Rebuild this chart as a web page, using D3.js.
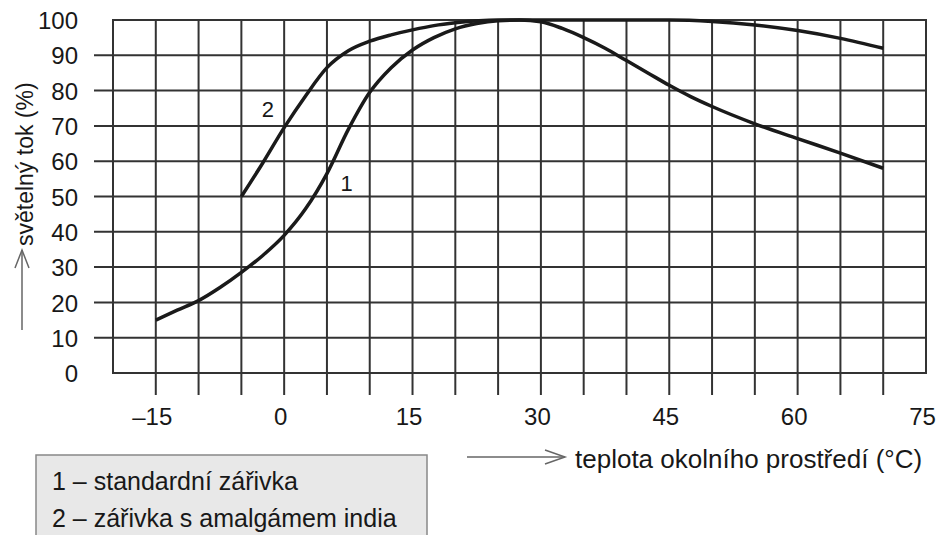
<!DOCTYPE html>
<html>
<head>
<meta charset="utf-8">
<script src="https://cdn.jsdelivr.net/npm/d3@7/dist/d3.min.js"></script>
<style>
  html, body { margin: 0; padding: 0; background: #fff; }
  svg { display: block; font-family: "Liberation Sans", Arial, sans-serif; }
</style>
</head>
<body>
<svg id="chart" width="937" height="535"></svg>
<script>
// ---- data ----
const temps1 = [-15, -12.5, -10, -7.5, -5, -2.5, 0, 2.5, 5, 7.5, 10, 12.5, 15, 17.5, 20, 22.5, 25, 27.5, 30, 32.5, 35, 37.5, 40, 42.5, 45, 47.5, 50, 55, 60, 65, 70];
const flux1  = [15, 17.8, 20.5, 24.2, 28.5, 33.3, 39, 46.5, 56.5, 69, 79.5, 86.5, 91.5, 95, 97.5, 99, 99.8, 100, 99.5, 97.6, 95, 92, 88.5, 85, 81.5, 78.3, 75.5, 70.6, 66.4, 62.3, 58];
const temps2 = [-5, -2.5, 0, 2.5, 5, 7.5, 10, 12.5, 15, 17.5, 20, 25, 30, 35, 40, 45, 50, 55, 60, 65, 70];
const flux2  = [50, 59.5, 69.5, 78.5, 86.5, 91.3, 94, 95.8, 97.2, 98.4, 99.2, 100, 100, 100, 100, 100, 99.6, 98.6, 97, 94.8, 92];
const xTickLabels = [-15, 0, 15, 30, 45, 60, 75];
const yTickLabels = [0, 10, 20, 30, 40, 50, 60, 70, 80, 90, 100];
const xGrid = [-15, -10, -5, 0, 5, 10, 15, 20, 25, 30, 35, 40, 45, 50, 55, 60, 65, 70];
const yGrid = [10, 20, 30, 40, 50, 60, 70, 80, 90];
const curveLabels = [{text: "2", t: -1.9, v: 72.5}, {text: "1", t: 7.3, v: 51.5}];
const legendLines = ["1 – standardní zářivka", "2 – zářivka s amalgámem india"];
const xTitle = "teplota okolního prostředí (°C)";
const yTitle = "světelný tok (%)";

// ---- scales ----
const svg = d3.select("#chart");
const x = d3.scaleLinear().domain([-20, 75]).range([113, 926]);
const y = d3.scaleLinear().domain([0, 100]).range([373, 20]);
const gridColor = "#333";
const textColor = "#181818";

// grid
svg.append("g").selectAll("line").data(xGrid).join("line")
  .attr("x1", d => x(d)).attr("x2", d => x(d))
  .attr("y1", y(100)).attr("y2", y(0) + 22)
  .attr("stroke", gridColor).attr("stroke-width", 2);
svg.append("g").selectAll("line").data(yGrid).join("line")
  .attr("x1", x(-20) - 19).attr("x2", x(75))
  .attr("y1", d => y(d)).attr("y2", d => y(d))
  .attr("stroke", gridColor).attr("stroke-width", 2);
svg.append("rect")
  .attr("x", x(-20)).attr("y", y(100))
  .attr("width", x(75) - x(-20)).attr("height", y(0) - y(100))
  .attr("fill", "none").attr("stroke", gridColor).attr("stroke-width", 2);

// axes labels
const xAxis = svg.append("g").attr("transform", `translate(-4,${y(0) + 52})`)
  .call(d3.axisBottom(x).tickValues(xTickLabels).tickSize(0).tickPadding(0)
    .tickFormat(d => d < 0 ? "–" + Math.abs(d) : String(d)));
xAxis.select(".domain").remove();
xAxis.selectAll("text").attr("font-size", 24).attr("font-family", "Liberation Sans, Arial, sans-serif")
  .attr("fill", textColor).attr("dy", 0);

const yAxis = svg.append("g").attr("transform", `translate(78,0)`)
  .call(d3.axisLeft(y).tickValues(yTickLabels).tickSize(0).tickPadding(0));
yAxis.select(".domain").remove();
yAxis.selectAll("text").attr("font-size", 24).attr("font-family", "Liberation Sans, Arial, sans-serif")
  .attr("fill", textColor).attr("dy", "0.36em");

// curves
const line = d3.line().x(d => x(d[0])).y(d => y(d[1])).curve(d3.curveMonotoneX);
svg.append("path").datum(d3.zip(temps1, flux1)).attr("d", line)
  .attr("fill", "none").attr("stroke", "#1a1a1a").attr("stroke-width", 3.5);
svg.append("path").datum(d3.zip(temps2, flux2)).attr("d", line)
  .attr("fill", "none").attr("stroke", "#1a1a1a").attr("stroke-width", 3.5);

// curve labels
svg.append("g").selectAll("text").data(curveLabels).join("text")
  .attr("x", d => x(d.t)).attr("y", d => y(d.v))
  .attr("font-size", 22).attr("fill", textColor).attr("text-anchor", "middle")
  .text(d => d.text);

// x title with arrow
const arrowColor = "#666";
svg.append("line").attr("x1", 467).attr("x2", 565).attr("y1", 457).attr("y2", 457)
  .attr("stroke", arrowColor).attr("stroke-width", 1.5);
svg.append("path").attr("d", "M545,450 L565,457 L545,464")
  .attr("fill", "none").attr("stroke", arrowColor).attr("stroke-width", 1.5);
svg.append("text").attr("x", 575).attr("y", 468).attr("font-size", 26).attr("fill", textColor)
  .text(xTitle);

// y title with arrow
svg.append("line").attr("x1", 22).attr("x2", 22).attr("y1", 330).attr("y2", 250)
  .attr("stroke", arrowColor).attr("stroke-width", 1.5);
svg.append("path").attr("d", "M15,268 L22,250 L29,268")
  .attr("fill", "none").attr("stroke", arrowColor).attr("stroke-width", 1.5);
svg.append("text").attr("transform", "translate(33,246) rotate(-90)")
  .attr("font-size", 23).attr("fill", textColor).text(yTitle);

// legend
svg.append("rect").attr("x", 36).attr("y", 455).attr("width", 391).attr("height", 100)
  .attr("fill", "#e8e8e8").attr("stroke", "#888").attr("stroke-width", 1.5);
svg.append("g").selectAll("text").data(legendLines).join("text")
  .attr("x", 52).attr("y", (d, i) => 490 + i * 37)
  .attr("font-size", 25).attr("fill", textColor).text(d => d);
</script>
</body>
</html>
